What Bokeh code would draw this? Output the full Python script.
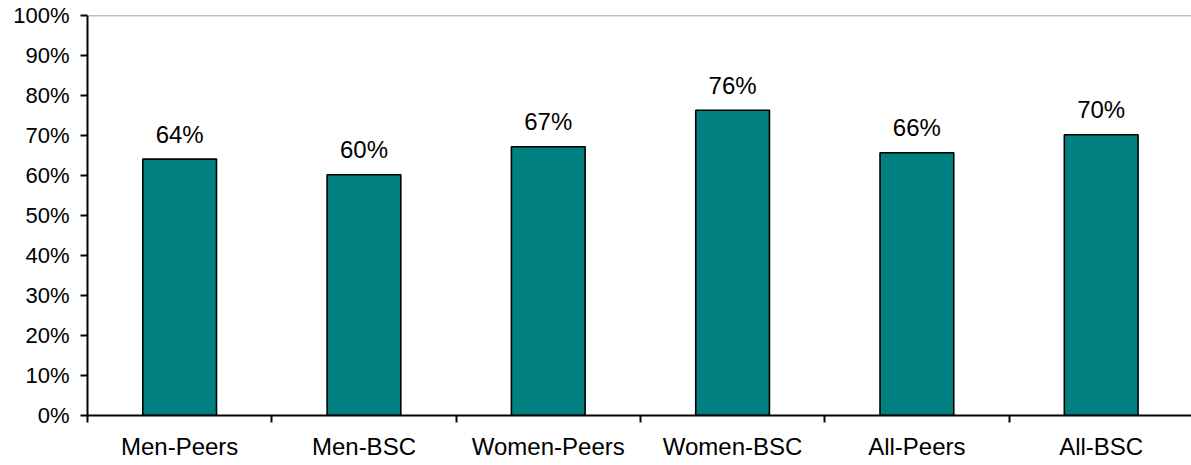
from bokeh.plotting import figure
from bokeh.models import (ColumnDataSource, Range1d, FixedTicker, LabelSet, Span)
from bokeh.core.properties import value
from bokeh.embed import file_html
from bokeh.resources import INLINE

categories = ["Men-Peers", "Men-BSC", "Women-Peers", "Women-BSC", "All-Peers", "All-BSC"]
values = [64.1, 60.2, 67.2, 76.3, 65.7, 70.2]
y_ticks = [0, 10, 20, 30, 40, 50, 60, 70, 80, 90, 100]

FONT = "Liberation Sans"
xs = [i + 0.5 for i in range(len(categories))]
src = ColumnDataSource(dict(
    x=xs, top=values,
    label=[f"{round(v):d}%" for v in values],
))

p = figure(width=1191, height=465, output_backend="svg", toolbar_location=None,
           x_range=Range1d(0, 5.99), y_range=Range1d(0, 100),
           min_border_left=87, min_border_right=0, min_border_top=15,
           min_border_bottom=50)
p.outline_line_color = None
p.background_fill_color = "white"
p.border_fill_color = "white"
p.xgrid.grid_line_color = None
p.ygrid.grid_line_color = None

p.vbar(x="x", top="top", width=0.4, bottom=0, source=src,
       fill_color="#008080", line_color="black", line_width=1.6)

labels = LabelSet(x="x", y="top", text="label", source=src, text_align="center",
                  text_baseline="middle", y_offset=25, text_font=value(FONT),
                  text_font_size="24px", text_color="black")
p.add_layout(labels)

p.add_layout(Span(location=100, dimension="width", line_color="#7f7f7f", line_width=1.5))

# y axis
p.yaxis.ticker = FixedTicker(ticks=y_ticks)
p.yaxis.major_label_overrides = {t: f"{t}%" for t in y_ticks}
p.yaxis.axis_line_width = 2
p.yaxis.axis_line_color = "black"
p.yaxis.major_tick_in = 0
p.yaxis.major_tick_out = 7
p.yaxis.major_tick_line_width = 2
p.yaxis.minor_tick_line_color = None
p.yaxis.major_label_standoff = 11
p.yaxis.major_label_text_font = FONT
p.yaxis.major_label_text_font_size = "22px"
p.yaxis.major_label_text_color = "black"

# x axis: labels at category centers, tick marks at boundaries
p.xaxis.ticker = FixedTicker(ticks=xs, minor_ticks=list(range(len(categories) + 1)))
p.xaxis.major_label_overrides = {x: c for x, c in zip(xs, categories)}
p.xaxis.axis_line_width = 2
p.xaxis.axis_line_color = "black"
p.xaxis.major_tick_in = 0
p.xaxis.major_tick_out = 0
p.xaxis.minor_tick_in = 0
p.xaxis.minor_tick_out = 7
p.xaxis.minor_tick_line_width = 2
p.xaxis.minor_tick_line_color = "black"
p.xaxis.major_label_standoff = 10
p.xaxis.major_label_text_font = FONT
p.xaxis.major_label_text_font_size = "24px"
p.xaxis.major_label_text_color = "black"

open("out.html", "w").write(file_html(p, INLINE))
